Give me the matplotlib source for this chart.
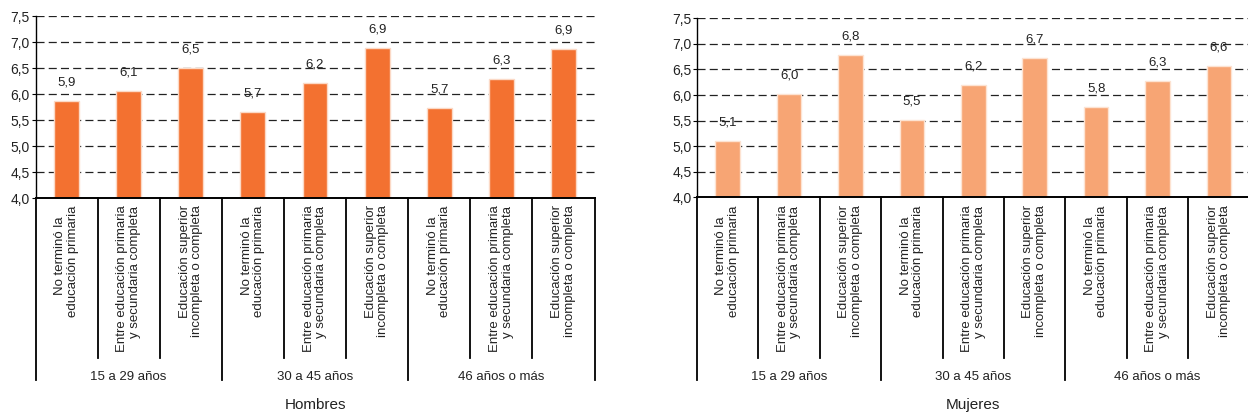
import matplotlib
matplotlib.use("Agg")
import matplotlib.pyplot as plt
from matplotlib.transforms import blended_transform_factory

plt.rcParams['font.family'] = ['Liberation Sans', 'DejaVu Sans']
plt.rcParams['lines.scale_dashes'] = False

# ---- data ----
categories = ["No terminó la   \neducación primaria",
              "Entre educación primaria\ny secundaria completa",
              "Educación superior\nincompleta o completa"]
age_groups = ["15 a 29 años", "30 a 45 años", "46 años o más"]
hombres = [5.86, 6.06, 6.51, 5.66, 6.21, 6.88, 5.73, 6.29, 6.86]
mujeres = [5.11, 6.02, 6.78, 5.52, 6.19, 6.72, 5.76, 6.27, 6.57]
panel_titles = ["Hombres", "Mujeres"]
yticks = [4.0, 4.5, 5.0, 5.5, 6.0, 6.5, 7.0, 7.5]

colors = ["#F37130", "#F7A574"]
edge_colors = ["#FBD9C6", "#FDE3D2"]
TEXT = "#222222"

W, H = 1248, 416
fig = plt.figure(figsize=(W / 100, H / 100), dpi=100)

# axes pixel boxes: (left, right, top, bottom)
boxes = [(35.5, 594.5, 16.0, 198.3), (697.0, 1249.6, 18.3, 197.3)]

def fpx(l, r, t, b):
    return [l / W, 1 - b / H, (r - l) / W, (b - t) / H]

for i, (vals, box) in enumerate(zip([hombres, mujeres], boxes)):
    ax = fig.add_axes(fpx(*box))
    n = len(vals)
    xs = list(range(n))
    ax.set_xlim(-0.5, n - 0.5)
    ax.set_ylim(4.0, 7.5)
    ax.set_yticks(yticks)
    ax.set_yticklabels([f"{t:.1f}".replace('.', ',') for t in yticks],
                       fontsize=10, color=TEXT)
    ax.tick_params(axis='y', length=3, width=0.8, pad=1, color='black')
    ax.set_xticks([])
    for t in yticks[1:]:
        ax.axhline(t, color='#222222', lw=0.9, ls=(0, (5.8, 3.0)), zorder=1)
    ax.bar(xs, vals, width=0.4, color=colors[i], edgecolor=edge_colors[i],
           linewidth=1.0, zorder=2)
    for x, v in zip(xs, vals):
        ax.annotate(f"{v:.1f}".replace('.', ','), (x, v), xytext=(0, 9),
                    textcoords='offset points', ha='center', va='bottom',
                    fontsize=9.5, color=TEXT)
    for s in ['top', 'right']:
        ax.spines[s].set_visible(False)
    ax.spines['left'].set_linewidth(1.0)
    ax.spines['bottom'].set_linewidth(1.4)

    # transform: x in data, y in figure inches (from bottom)
    tr = blended_transform_factory(ax.transData, fig.dpi_scale_trans)
    def yin(ypx):
        return (H - ypx) / 100

    bottom = box[3]
    for k in range(n + 1):
        xk = -0.5 + k
        yend = 380 if k % 3 == 0 else 358
        ax.plot([xk, xk], [yin(bottom), yin(yend)], transform=tr,
                color='black', lw=1.3, clip_on=False, zorder=3)
    for x in xs:
        ax.text(x, yin(205.5), categories[x % 3], transform=tr, rotation=90,
                ha='center', va='top', multialignment='right',
                fontsize=9.5, linespacing=1.05, color=TEXT)
    for g, name in enumerate(age_groups):
        ax.text(3 * g + 1, yin(376.5), name, transform=tr, ha='center',
                va='center', fontsize=9.5, color=TEXT)
    ax.text((n - 1) / 2, yin(405), panel_titles[i], transform=tr,
            ha='center', va='center', fontsize=11, color=TEXT)

fig.savefig("out.png", dpi=100)
